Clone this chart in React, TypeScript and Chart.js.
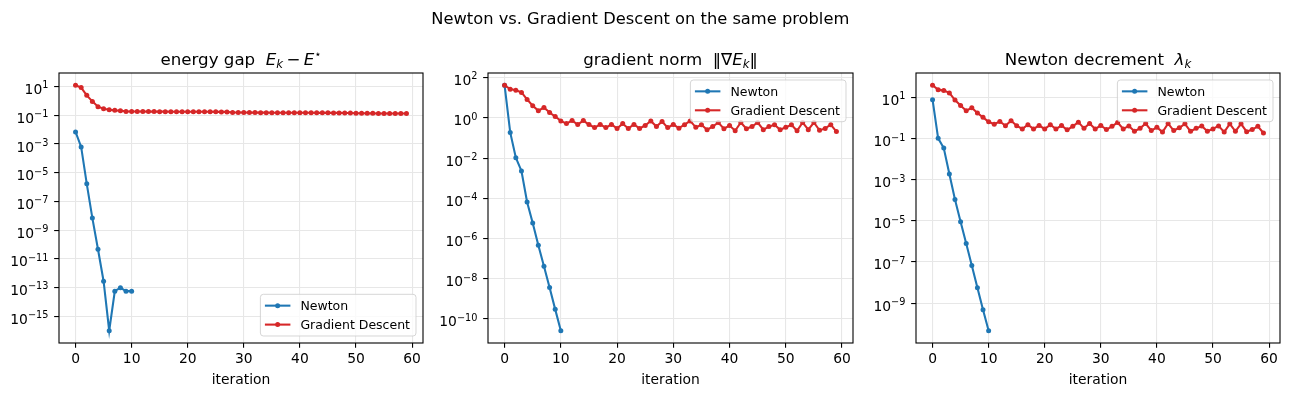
import React, { useEffect, useRef } from "react";
import { Chart, registerables } from "chart.js";

Chart.register(...registerables);

const FONT = "'DejaVu Sans', sans-serif";
const NEWTON_COLOR = "#1f77b4";
const GD_COLOR = "#d62728";
const GRID_COLOR = "#e7e7e7";

// energy gap E_k - E*
const energyNewton = [7e-3, 6.3e-4, 1.7e-6, 7e-9, 4.7e-11, 2.8e-13, 1e-16, 5.7e-14, 1e-13, 5.7e-14, 5.7e-14];
const energyGD = [
  12.3, 8.5, 2.45, 0.93, 0.4, 0.29, 0.245, 0.22, 0.21, 0.185,
  0.184, 0.183, 0.182, 0.181, 0.18, 0.179, 0.179, 0.178, 0.177, 0.177,
  0.176, 0.176, 0.175, 0.174, 0.174, 0.173, 0.172, 0.172, 0.156, 0.155,
  0.155, 0.154, 0.154, 0.153, 0.153, 0.152, 0.152, 0.151, 0.151, 0.15,
  0.15, 0.149, 0.149, 0.148, 0.148, 0.148, 0.147, 0.147, 0.146, 0.146,
  0.137, 0.137, 0.136, 0.136, 0.135, 0.135, 0.134, 0.134, 0.133, 0.133,
];

// gradient norm ||grad E_k||
const gradNewton = [42, 0.19, 0.0105, 2.3e-3, 6.6e-5, 5.9e-6, 4.7e-7, 4.2e-8, 3.7e-9, 3e-10, 2.6e-11];
const gradGD = [
  42, 27, 24, 18.6, 8.3, 4, 2.3, 3.3, 1.86, 1.17,
  0.71, 0.52, 0.74, 0.47, 0.74, 0.47, 0.33, 0.47, 0.33, 0.47,
  0.3, 0.52, 0.3, 0.47, 0.3, 0.42, 0.71, 0.37, 0.66, 0.33,
  0.47, 0.31, 0.46, 0.71, 0.34, 0.46, 0.26, 0.37, 0.59, 0.29,
  0.42, 0.23, 0.59, 0.29, 0.37, 0.59, 0.26, 0.37, 0.46, 0.26,
  0.34, 0.46, 0.23, 0.59, 0.26, 0.59, 0.24, 0.3, 0.46, 0.21,
];

// Newton decrement lambda_k
const decNewton = [8, 0.105, 0.035, 1.9e-3, 1.1e-4, 9e-6, 8e-7, 6.8e-8, 5.6e-9, 4.7e-10, 4.5e-11];
const decGD = [
  40, 24.5, 22, 17, 7.6, 4.1, 2.3, 3.2, 1.78, 1.1,
  0.67, 0.51, 0.69, 0.43, 0.75, 0.43, 0.3, 0.48, 0.3, 0.44,
  0.3, 0.48, 0.3, 0.44, 0.27, 0.4, 0.64, 0.32, 0.55, 0.3,
  0.44, 0.28, 0.4, 0.62, 0.3, 0.42, 0.23, 0.32, 0.55, 0.25,
  0.36, 0.21, 0.55, 0.25, 0.34, 0.53, 0.23, 0.32, 0.42, 0.23,
  0.3, 0.42, 0.21, 0.53, 0.23, 0.53, 0.22, 0.28, 0.4, 0.19,
];

const iterationTicks = [0, 10, 20, 30, 40, 50, 60];
const energyExponents = [1, -1, -3, -5, -7, -9, -11, -13, -15];
const gradExponents = [2, 0, -2, -4, -6, -8, -10];
const decExponents = [1, -1, -3, -5, -7, -9];

const seriesLabels = ["Newton", "Gradient Descent"];
const suptitleText = "Newton vs. Gradient Descent on the same problem";
const xTitle = "iteration";

type Seg = { t: string; it?: boolean; sub?: boolean; sup?: boolean };

const energyTitle: Seg[] = [
  { t: "energy gap  " },
  { t: "E", it: true },
  { t: "k", it: true, sub: true },
  { t: "\u2009\u2212\u2009" },
  { t: "E", it: true },
  { t: "\u22c6", sup: true },
];
const gradTitle: Seg[] = [
  { t: "gradient norm  " },
  { t: "\u2016\u2207" },
  { t: "E", it: true },
  { t: "k", it: true, sub: true },
  { t: "\u2016" },
];
const decTitle: Seg[] = [
  { t: "Newton decrement  " },
  { t: "\u03bb", it: true },
  { t: "k", it: true, sub: true },
];

const FIG_W = 1290;
const H = 396;
const PLOT_TOP = 73;
const PLOT_BOTTOM = 343;
const FS = 13.89;
const SUP_FS = 9.72;
const TITLE_FS = 16.67;
const SUPTITLE_FS = 16.3;
const LEG_FS = 12.5;
const LINE_W = 2.08;
const DOT_R = 2.5;
const THIN = 1.1;
const TICK_LEN = 4.86;

type PanelSpec = {
  left: number;
  width: number;
  plotLeft: number;
  plotRight: number;
  newton: number[];
  gd: number[];
  exponents: number[];
  title: Seg[];
  legendLoc: "upper right" | "lower right";
};

const panels: PanelSpec[] = [
  { left: 0, width: 430, plotLeft: 59, plotRight: 423, newton: energyNewton, gd: energyGD, exponents: energyExponents, title: energyTitle, legendLoc: "lower right" },
  { left: 430, width: 430, plotLeft: 58, plotRight: 423, newton: gradNewton, gd: gradGD, exponents: gradExponents, title: gradTitle, legendLoc: "upper right" },
  { left: 860, width: 430, plotLeft: 56, plotRight: 420, newton: decNewton, gd: decGD, exponents: decExponents, title: decTitle, legendLoc: "upper right" },
];

function logLimits(a: number[], b: number[]) {
  const all = a.concat(b);
  const lo = Math.log10(Math.min(...all));
  const hi = Math.log10(Math.max(...all));
  const m = (hi - lo) * 0.05;
  return { min: Math.pow(10, lo - m), max: Math.pow(10, hi + m) };
}

function drawSegs(ctx: CanvasRenderingContext2D, segs: Seg[], cx: number, baseline: number, size: number) {
  const parts = segs.map((s) => {
    const fs = s.sub || s.sup ? size * 0.7 : size;
    const font = `${s.it ? "italic " : ""}${fs}px ${FONT}`;
    ctx.font = font;
    const w = ctx.measureText(s.t).width;
    const dy = s.sub ? size * 0.17 : s.sup ? -size * 0.42 : 0;
    return { s, font, w, dy };
  });
  const total = parts.reduce((acc, p) => acc + p.w, 0);
  let x = cx - total / 2;
  ctx.textAlign = "left";
  ctx.textBaseline = "alphabetic";
  for (const p of parts) {
    ctx.font = p.font;
    ctx.fillText(p.s.t, x, baseline + p.dy);
    x += p.w;
  }
}

function roundedRect(ctx: CanvasRenderingContext2D, x: number, y: number, w: number, h: number, r: number) {
  ctx.beginPath();
  ctx.moveTo(x + r, y);
  ctx.lineTo(x + w - r, y);
  ctx.arcTo(x + w, y, x + w, y + r, r);
  ctx.lineTo(x + w, y + h - r);
  ctx.arcTo(x + w, y + h, x + w - r, y + h, r);
  ctx.lineTo(x + r, y + h);
  ctx.arcTo(x, y + h, x, y + h - r, r);
  ctx.lineTo(x, y + r);
  ctx.arcTo(x, y, x + r, y, r);
  ctx.closePath();
}

function drawLegend(ctx: CanvasRenderingContext2D, a: { left: number; right: number; top: number; bottom: number }, loc: string) {
  ctx.font = `${LEG_FS}px ${FONT}`;
  const tw = Math.max(...seriesLabels.map((l) => ctx.measureText(l).width));
  const w = tw + 46;
  const h = 41.7;
  const bx = a.right - 7 - w;
  const by = loc === "lower right" ? a.bottom - 7 - h : a.top + 7;
  roundedRect(ctx, bx, by, w, h, 3);
  ctx.fillStyle = "rgba(255,255,255,0.8)";
  ctx.fill();
  ctx.strokeStyle = "rgba(204,204,204,0.8)";
  ctx.lineWidth = 1;
  ctx.stroke();
  const colors = [NEWTON_COLOR, GD_COLOR];
  seriesLabels.forEach((label, i) => {
    const cy = by + 11.35 + i * 18.95;
    ctx.strokeStyle = colors[i];
    ctx.lineWidth = LINE_W;
    ctx.beginPath();
    ctx.moveTo(bx + 4.5, cy);
    ctx.lineTo(bx + 30, cy);
    ctx.stroke();
    ctx.fillStyle = colors[i];
    ctx.beginPath();
    ctx.arc(bx + 17.25, cy, DOT_R, 0, Math.PI * 2);
    ctx.fill();
    ctx.fillStyle = "#000";
    ctx.font = `${LEG_FS}px ${FONT}`;
    ctx.textAlign = "left";
    ctx.textBaseline = "alphabetic";
    ctx.fillText(label, bx + 40, cy + 4.5);
  });
}

const decorPlugin = {
  id: "mplDecor",
  afterDraw(chart: any, _args: any, opts: any) {
    const { ctx, chartArea: a, scales } = chart;
    ctx.save();
    // axes frame
    ctx.strokeStyle = "#000";
    ctx.lineWidth = THIN;
    ctx.strokeRect(a.left, a.top, a.right - a.left, a.bottom - a.top);

    ctx.fillStyle = "#000";
    ctx.textBaseline = "alphabetic";
    // x tick labels and axis title
    ctx.font = `${FS}px ${FONT}`;
    ctx.textAlign = "center";
    for (const v of iterationTicks) {
      ctx.fillText(String(v), scales.x.getPixelForValue(v), a.bottom + 20.3);
    }
    ctx.fillText(xTitle, (a.left + a.right) / 2, a.bottom + 41.4);

    // y tick labels as powers of ten
    ctx.textAlign = "right";
    const xr = a.left - 10.6;
    for (const e of opts.exponents as number[]) {
      const y = scales.y.getPixelForValue(Math.pow(10, e));
      const exp = e < 0 ? "\u2212" + Math.abs(e) : String(e);
      ctx.font = `${SUP_FS}px ${FONT}`;
      const we = ctx.measureText(exp).width;
      ctx.fillText(exp, xr, y + 1.8);
      ctx.font = `${FS}px ${FONT}`;
      ctx.fillText("10", xr - we, y + 7.5);
    }

    // axes title
    ctx.fillStyle = "#000";
    drawSegs(ctx, opts.title, (a.left + a.right) / 2, a.top - 7.6, TITLE_FS);

    drawLegend(ctx, a, opts.legendLoc);
    ctx.restore();
  },
};

function Panel({ spec }: { spec: PanelSpec }) {
  const ref = useRef<HTMLCanvasElement>(null);
  useEffect(() => {
    const lim = logLimits(spec.newton, spec.gd);
    const n = spec.gd.length - 1;
    const xMargin = n * 0.05;
    const mkData = (arr: number[]) => arr.map((v, i) => ({ x: i, y: v }));
    const gridOpts = { color: GRID_COLOR, lineWidth: THIN, tickColor: "#000", tickLength: TICK_LEN, tickWidth: THIN };
    const chart = new Chart(ref.current as HTMLCanvasElement, {
      type: "line",
      data: {
        datasets: [
          {
            label: seriesLabels[0],
            data: mkData(spec.newton),
            borderColor: NEWTON_COLOR,
            backgroundColor: NEWTON_COLOR,
            pointBackgroundColor: NEWTON_COLOR,
            borderWidth: LINE_W,
            pointRadius: DOT_R,
            pointBorderWidth: 0,
            tension: 0,
            fill: false,
            order: 1,
          },
          {
            label: seriesLabels[1],
            data: mkData(spec.gd),
            borderColor: GD_COLOR,
            backgroundColor: GD_COLOR,
            pointBackgroundColor: GD_COLOR,
            borderWidth: LINE_W,
            pointRadius: DOT_R,
            pointBorderWidth: 0,
            tension: 0,
            fill: false,
            order: 0,
          },
        ],
      },
      options: {
        responsive: false,
        animation: false,
        devicePixelRatio: 1,
        events: [],
        layout: { padding: { top: PLOT_TOP, right: spec.width - spec.plotRight, left: 0, bottom: 0 } },
        plugins: {
          legend: { display: false },
          title: { display: false },
          tooltip: { enabled: false },
          mplDecor: {
            exponents: spec.exponents,
            title: spec.title,
            legendLoc: spec.legendLoc,
          },
        } as any,
        scales: {
          x: {
            type: "linear",
            min: -xMargin,
            max: n + xMargin,
            bounds: "data",
            afterBuildTicks: (s: any) => {
              s.ticks = iterationTicks.map((v) => ({ value: v }));
            },
            afterFit: (s: any) => {
              s.height = H - PLOT_BOTTOM;
            },
            ticks: { callback: () => "", autoSkip: false, maxRotation: 0 },
            grid: gridOpts,
            border: { display: false },
          },
          y: {
            type: "logarithmic",
            min: lim.min,
            max: lim.max,
            bounds: "data",
            afterBuildTicks: (s: any) => {
              s.ticks = spec.exponents.map((e) => ({ value: Math.pow(10, e) }));
            },
            afterFit: (s: any) => {
              s.width = spec.plotLeft;
            },
            ticks: { callback: () => "", autoSkip: false },
            grid: gridOpts,
            border: { display: false },
          },
        } as any,
      },
      plugins: [decorPlugin],
    });
    return () => chart.destroy();
  }, [spec]);
  return (
    <canvas
      ref={ref}
      width={spec.width}
      height={H}
      style={{ position: "absolute", left: spec.left, top: 0, width: spec.width, height: H }}
    />
  );
}

export default function App() {
  return (
    <div style={{ position: "absolute", left: 0, top: 0, width: FIG_W, height: H, background: "#fff", overflow: "hidden" }}>
      {panels.map((p, i) => (
        <Panel key={i} spec={p} />
      ))}
      <div
        style={{
          position: "absolute",
          left: 0,
          top: 9.3,
          width: 1280.6,
          textAlign: "center",
          fontFamily: FONT,
          fontSize: SUPTITLE_FS,
          lineHeight: "20px",
          color: "#000",
          whiteSpace: "nowrap",
        }}
      >
        {suptitleText}
      </div>
    </div>
  );
}
